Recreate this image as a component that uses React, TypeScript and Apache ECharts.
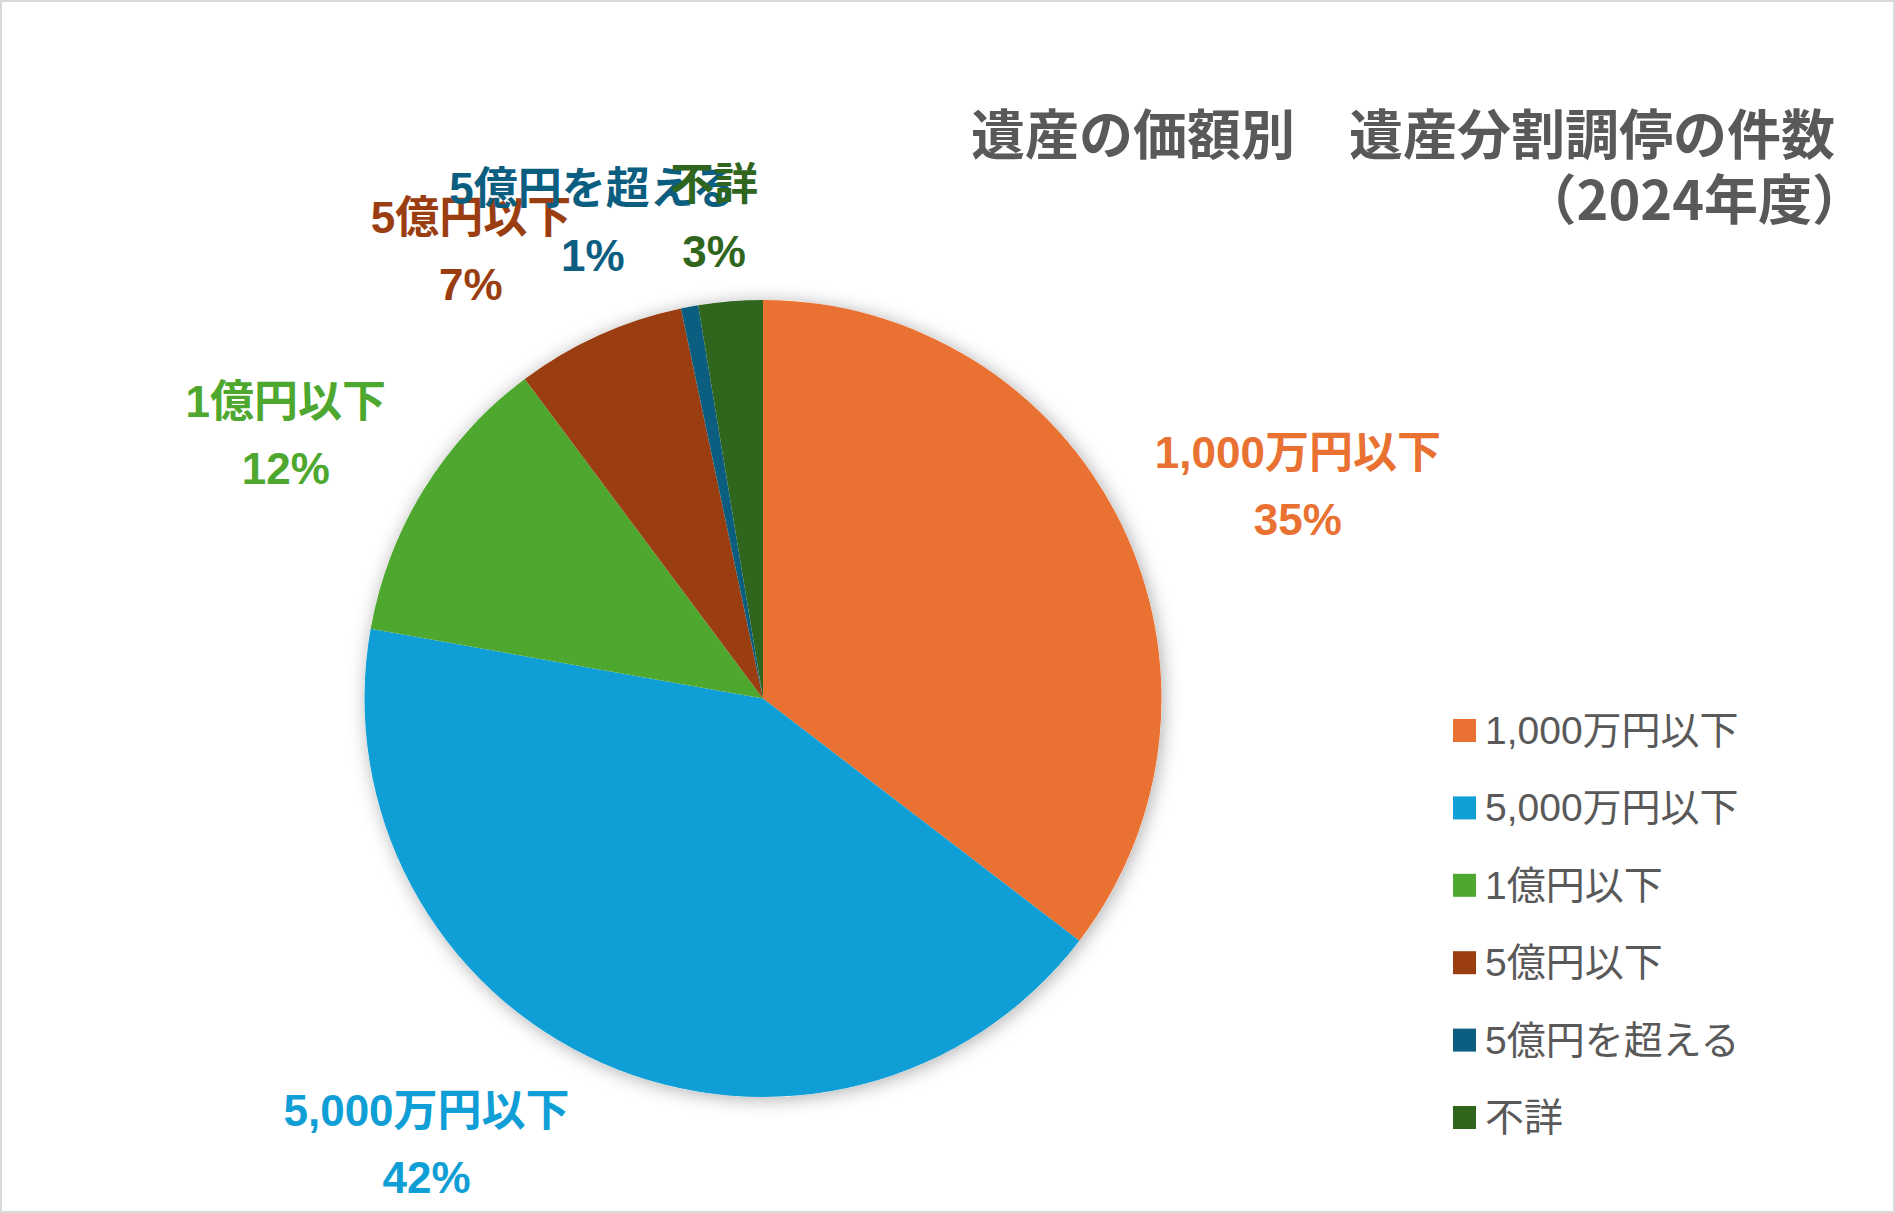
import React, { useEffect, useRef } from "react";
import * as echarts from "echarts";

// ---- data ----
const categories = ["1,000万円以下", "5,000万円以下", "1億円以下", "5億円以下", "5億円を超える", "不詳"];
const shares = [35.4, 42.4, 12.0, 6.9, 0.7, 2.6];
const sliceColors = ["#E97132", "#0F9ED5", "#4EA72E", "#9A3E12", "#0B5E7F", "#30651E"];
const titleLine1 = "遺産の価額別　遺産分割調停の件数";
const titleLine2 = "（2024年度）";

// ---- layout tweaks (label nudges in px) ----
const labelNudge: number[][] = [
  [52, 25.5],
  [-119.5, -47],
  [-19, 19],
  [-70.5, 43],
  [-71, 53],
  [-5, 56],
];

const W = 1895;
const H = 1213;
const CX = 763;
const CY = 698.5;
const R = 398.5;

const labelFont = "'Liberation Sans', 'Noto Sans CJK JP', sans-serif";
const cjkFont = "'Noto Sans CJK JP', sans-serif";

export default function App() {
  const ref = useRef<HTMLDivElement>(null);

  useEffect(() => {
    if (!ref.current) return;
    const chart = echarts.init(ref.current, null, { renderer: "svg" });
    const total = shares.reduce((a, b) => a + b, 0);

    const titleStyle = {
      fontFamily: cjkFont,
      fontSize: 54,
      fontWeight: "bold",
      color: "#595959",
      lineHeight: 58,
    };

    const option: any = {
      animation: false,
      backgroundColor: "#ffffff",
      title: [
        { text: titleLine1, right: 60, top: 102, padding: 0, textStyle: titleStyle },
        { text: titleLine2, right: 29, top: 167, padding: 0, textStyle: titleStyle },
      ],
      legend: {
        data: categories,
        orient: "vertical",
        left: 1453,
        top: 710.5,
        padding: 0,
        itemWidth: 23,
        itemHeight: 23,
        itemGap: 37.4,
        icon: "rect",
        selectedMode: false,
        textStyle: {
          fontFamily: labelFont,
          fontSize: 39,
          lineHeight: 40,
          color: "#595959",
          padding: [0, 0, 0, 4],
        },
      },
      series: [
        {
          type: "pie",
          silent: true,
          center: [CX, CY],
          radius: R,
          label: { show: false },
          labelLine: { show: false },
          itemStyle: {
            color: "#ffffff",
            shadowBlur: 18,
            shadowColor: "rgba(0,0,0,0.32)",
            shadowOffsetX: 2,
            shadowOffsetY: 2,
          },
          emphasis: { disabled: true },
          data: [{ name: "", value: total }],
          z: 1,
        },
        {
          type: "pie",
          center: [CX, CY],
          radius: R,
          startAngle: 90,
          clockwise: true,
          avoidLabelOverlap: false,
          percentPrecision: 0,
          emphasis: { disabled: true },
          z: 2,
          label: {
            show: true,
            position: "outside",
            formatter: "{b}\n{d}%",
            fontFamily: labelFont,
            fontSize: 44,
            fontWeight: "bold",
            lineHeight: 67,
            distanceToLabelLine: 0,
          },
          labelLine: { show: false, length: 140, length2: 0 },
          labelLayout: (params: any) => {
            const n = labelNudge[params.dataIndex] || [0, 0];
            return { align: "center", verticalAlign: "middle", dx: n[0], dy: n[1] };
          },
          data: categories.map((name, i) => ({
            name,
            value: shares[i],
            itemStyle: { color: sliceColors[i] },
            label: { color: sliceColors[i] },
          })),
        },
      ],
    };

    chart.setOption(option);
    return () => chart.dispose();
  }, []);

  return (
    <div style={{ position: "absolute", left: 0, top: 0, width: W, height: H }}>
      <div ref={ref} style={{ position: "absolute", left: 0, top: 0, width: W, height: H }} />
      <div
        style={{
          position: "absolute",
          left: 0,
          top: 0,
          width: W,
          height: H,
          boxSizing: "border-box",
          border: "2px solid #d9d9d9",
          pointerEvents: "none",
        }}
      />
    </div>
  );
}
